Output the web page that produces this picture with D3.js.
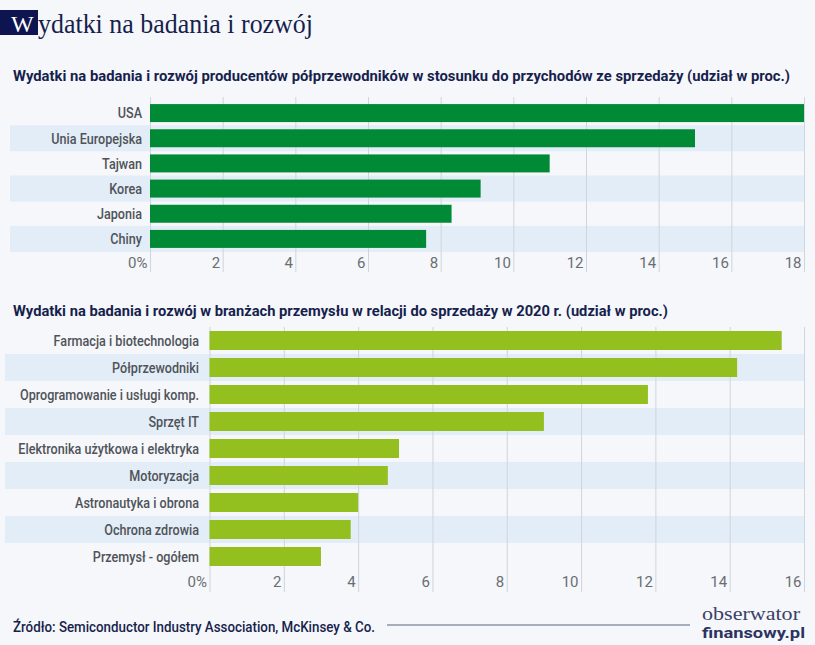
<!DOCTYPE html>
<html><head><meta charset="utf-8">
<script src="https://cdn.jsdelivr.net/npm/d3@7"></script>
<style>
html,body{margin:0;padding:0;background:#f5f7fa;}
svg{display:block;}
</style></head>
<body>
<svg id="c" width="815" height="645"></svg>
<script>
const mainTitle = "Wydatki na badania i rozwój";
const title1 = "Wydatki na badania i rozwój producentów półprzewodników w stosunku do przychodów ze sprzedaży (udział w proc.)";
const title2 = "Wydatki na badania i rozwój w branżach przemysłu w relacji do sprzedaży w 2020 r. (udział w proc.)";
const source = "Źródło: Semiconductor Industry Association, McKinsey & Co.";

const regions = ["USA","Unia Europejska","Tajwan","Korea","Japonia","Chiny"];
const regionValues = [18.0, 15.0, 11.0, 9.1, 8.3, 7.6];
const ticks1 = [0,2,4,6,8,10,12,14,16,18];

const sectors = ["Farmacja i biotechnologia","Półprzewodniki","Oprogramowanie i usługi komp.","Sprzęt IT","Elektronika użytkowa i elektryka","Motoryzacja","Astronautyka i obrona","Ochrona zdrowia","Przemysł - ogółem"];
const sectorValues = [15.4, 14.2, 11.8, 9.0, 5.1, 4.8, 4.0, 3.8, 3.0];
const ticks2 = [0,2,4,6,8,10,12,14,16];

const svg = d3.select("#c");
const NAVY = "#171f4d";
const SANS = "Roboto, 'Noto Sans', sans-serif";
const SERIF = "'Liberation Serif', 'DejaVu Serif', serif";

svg.append("rect").attr("width",815).attr("height",645).attr("fill","#f5f7fa");

function fitText(sel, w){ sel.attr("textLength", w).attr("lengthAdjust","spacingAndGlyphs"); return sel; }

// main title
svg.append("rect").attr("x",0).attr("y",10).attr("width",38).attr("height",25).attr("fill","#0d1450");
svg.append("text").attr("x",11).attr("y",32).attr("font-family",SERIF)
  .attr("font-size",24).attr("fill","#ffffff").text(mainTitle[0]);
fitText(svg.append("text").attr("x",38).attr("y",33).attr("font-family",SERIF)
  .attr("font-size",28).attr("fill",NAVY).text(mainTitle.slice(1)), 275);

// subtitles
fitText(svg.append("text").attr("x",13).attr("y",81).attr("font-family",SANS).attr("font-weight",700)
  .attr("font-size",15).attr("fill",NAVY).text(title1), 777);
fitText(svg.append("text").attr("x",13).attr("y",316).attr("font-family",SANS).attr("font-weight",700)
  .attr("font-size",15).attr("fill",NAVY).text(title2), 655);

function barChart(cfg){
  const g = svg.append("g");
  const x = d3.scaleLinear().domain(cfg.domain).range(cfg.xRange);
  const y = d3.scaleBand().domain(cfg.cats).range(cfg.yRange).paddingInner(0).paddingOuter(0);
  // stripes
  g.append("g").selectAll("rect").data(cfg.cats.filter((d,i)=>i%2===1)).join("rect")
    .attr("x",cfg.stripeX).attr("width",cfg.xRange[1]+1-cfg.stripeX)
    .attr("y",d=>y(d)+(y.bandwidth()-cfg.stripeH)/2).attr("height",cfg.stripeH)
    .attr("fill","#e3edf7");
  // grid + tick labels via axis
  const ax = d3.axisBottom(x).tickValues(cfg.ticks)
    .tickSize(-(cfg.gridBottom-cfg.gridTop))
    .tickFormat(d => d===0 ? "0%" : d);
  const axg = g.append("g").attr("transform",`translate(0,${cfg.gridBottom})`).call(ax);
  axg.select(".domain").remove();
  axg.selectAll(".tick line").attr("stroke","#cfd5dc").attr("stroke-width",1);
  axg.selectAll(".tick text").attr("text-anchor","end").attr("x",-3).attr("y",cfg.tickLabelDy).attr("dy",0)
    .attr("font-family",SANS).attr("font-size",15).attr("fill","#6a6e74");
  // bars
  g.append("g").selectAll("rect").data(cfg.cats).join("rect")
    .attr("x",x(0)).attr("y",d=>y(d)+(y.bandwidth()-cfg.barH)/2)
    .attr("width",(d,i)=>x(cfg.values[i])-x(0)).attr("height",cfg.barH)
    .attr("fill",cfg.color);
  // category labels
  const yl = d3.axisLeft(y).tickSize(0).tickPadding(0);
  const lg = g.append("g").attr("transform",`translate(${cfg.labelX},0)`).call(yl);
  lg.select(".domain").remove();
  lg.selectAll(".tick text").attr("font-family",SANS).attr("font-size",15).attr("font-weight",500).attr("fill","#4f5359")
    .attr("dy","0.35em").attr("x",0)
    .each(function(){ const w=this.getComputedTextLength(); d3.select(this).attr("textLength", w*0.84).attr("lengthAdjust","spacingAndGlyphs"); });
}

barChart({cats:regions, values:regionValues, domain:[0,18], xRange:[150,804], yRange:[100.5,251.5],
  ticks:ticks1, gridTop:97, gridBottom:272, tickLabelDy:-4, barH:18, stripeH:26, stripeX:10,
  color:"#008a35", labelX:142});

barChart({cats:sectors, values:sectorValues, domain:[0,16], xRange:[209.5,804], yRange:[327,570],
  ticks:ticks2, gridTop:327, gridBottom:592, tickLabelDy:-5, barH:19, stripeH:27, stripeX:5,
  color:"#93c01f", labelX:199});

// footer
fitText(svg.append("text").attr("x",13).attr("y",632).attr("font-family",SANS).attr("font-weight",500)
  .attr("font-size",15).attr("fill",NAVY).text(source), 362);
svg.append("line").attr("x1",387).attr("x2",690).attr("y1",625).attr("y2",625).attr("stroke","#8e94a6").attr("stroke-width",1.5);
fitText(svg.append("text").attr("x",702).attr("y",620).attr("font-family",SERIF)
  .attr("font-size",18).attr("fill","#3a4166").text("obserwator"), 98);
fitText(svg.append("text").attr("x",702).attr("y",638).attr("font-family",SANS).attr("font-weight",700)
  .attr("font-size",15).attr("fill","#2b3360").text("finansowy.pl"), 103);
</script>
</body></html>
